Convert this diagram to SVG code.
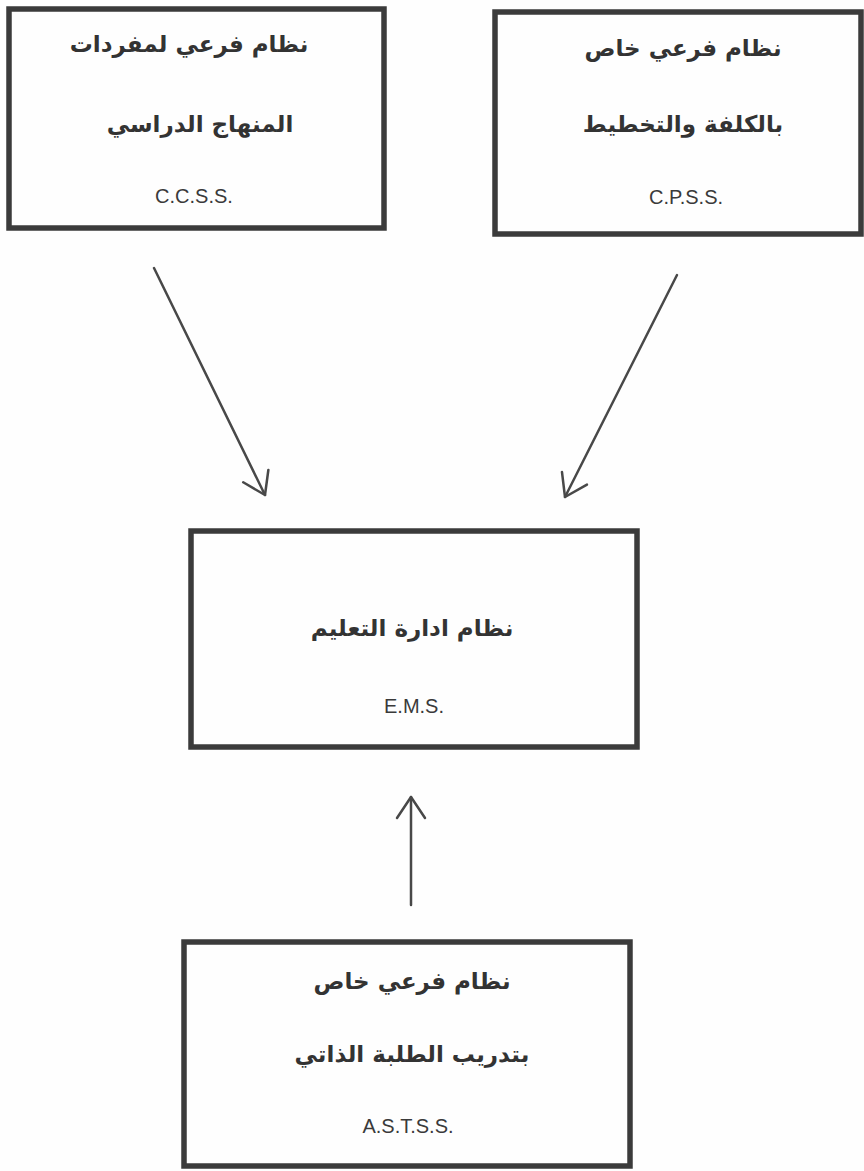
<svg xmlns="http://www.w3.org/2000/svg" width="864" height="1171" viewBox="0 0 864 1171">
<defs>
<style>
.box{fill:none;stroke:#3b3b3b;stroke-width:5.5}
.ar{font-family:"DejaVu Sans",sans-serif;font-weight:bold;font-size:23px;fill:#333;text-anchor:middle}
.en{font-family:"Liberation Sans",Arial,sans-serif;font-size:20px;fill:#3a3a3a;text-anchor:middle}
.conn{fill:none;stroke:#484848;stroke-width:2.5;stroke-linecap:round}
</style>
<marker id="vhead" viewBox="-26 -18 30 36" markerWidth="30" markerHeight="36" refX="0" refY="0" orient="auto" markerUnits="userSpaceOnUse">
<path d="M-21,-14 L0,0 L-21,14" fill="none" stroke="#484848" stroke-width="2.5" stroke-linecap="round" stroke-linejoin="round"/>
</marker>
</defs>
<rect x="0" y="0" width="864" height="1171" fill="#fefefe"/>
<g id="ccss">
<rect class="box" x="9" y="9" width="375" height="219"/>
<text class="ar" x="189" y="52" direction="rtl">نظام فرعي لمفردات</text>
<text class="ar" x="200" y="132" direction="rtl">المنهاج الدراسي</text>
<text class="en" x="194" y="203">C.C.S.S.</text>
</g>
<g id="cpss">
<rect class="box" x="495" y="12" width="366" height="222"/>
<text class="ar" x="683" y="56" direction="rtl">نظام فرعي خاص</text>
<text class="ar" x="683" y="132" direction="rtl">بالكلفة والتخطيط</text>
<text class="en" x="686" y="204">C.P.S.S.</text>
</g>
<g id="ems">
<rect class="box" x="191" y="531" width="446" height="216"/>
<text class="ar" x="412" y="636" direction="rtl">نظام ادارة التعليم</text>
<text class="en" x="414" y="713">E.M.S.</text>
</g>
<g id="astss">
<rect class="box" x="184" y="942" width="446" height="224"/>
<text class="ar" x="412" y="989" direction="rtl">نظام فرعي خاص</text>
<text class="ar" x="412" y="1062" direction="rtl">بتدريب الطلبة الذاتي</text>
<text class="en" x="408" y="1133">A.S.T.S.S.</text>
</g>
<g id="connectors">
<line class="conn" x1="154" y1="268" x2="265" y2="495" marker-end="url(#vhead)"/>
<line class="conn" x1="677" y1="275" x2="565" y2="497" marker-end="url(#vhead)"/>
<line class="conn" x1="411" y1="905" x2="411" y2="797" marker-end="url(#vhead)"/>
</g>
</svg>
